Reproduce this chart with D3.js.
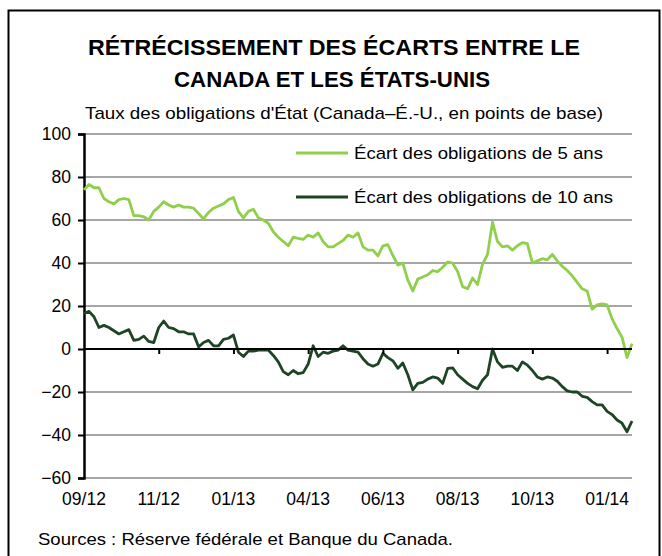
<!DOCTYPE html>
<html>
<head>
<meta charset="utf-8">
<script src="https://cdn.jsdelivr.net/npm/d3@7"></script>
<style>
  body { margin: 0; background: #fff; }
  svg { font-family: "Liberation Sans", Arial, sans-serif; }
</style>
</head>
<body>
<div id="chart"></div>
<script>
// spread series (basis points), evenly spaced trading-day samples
const spread5 = [
  74, 76.5, 75, 75, 70, 68.5, 67.5, 69.5, 70, 69.5,
  62, 62, 61.5, 60, 64, 66, 68.5, 67, 66, 67,
  66, 66, 65.5, 63, 60.5, 63.5, 65.5, 66.5, 67.5, 69.5,
  70.5, 64, 61, 64, 65, 61, 60, 58.5, 54.5, 52,
  50, 48, 52, 51.5, 51, 53, 52, 54, 50, 47.5,
  47.5, 49, 50.5, 53, 52, 54, 47.5, 46, 46, 43.3,
  48, 48.5, 43.5, 39, 40, 32, 27, 32.5, 33.5, 34.5,
  36.5, 36, 38, 40.5, 40, 36, 29, 28, 33, 30,
  39.5, 44, 59, 50, 47.5, 48, 46, 48, 49.5, 49,
  40, 41, 42, 41.5, 44, 41, 38.5, 36.5, 34, 31,
  28, 27, 18.5, 20.5, 21, 20.5, 14, 9.5, 5.5, -4,
  2.5
];
const spread10 = [
  16.5, 17.5, 15, 10, 11, 10, 8.5, 7, 8, 9,
  4, 4.5, 6, 3.5, 3, 10, 13, 10, 9.5, 8,
  8, 7, 7, 1, 3, 4, 1.5, 1.5, 4.5, 5,
  6.5, -1.5, -3.5, -1, -1, -0.5, -0.5, -0.5, -3, -6,
  -10.5, -12, -10, -11.5, -11, -7, 1.5, -3.5, -1.5, -2,
  -1, -0.5, 1.5, -0.5, -1, -1.5, -4.5, -7, -8, -7,
  -2, -4, -5.5, -9, -6.5, -12, -19, -16, -15.5, -14,
  -13, -13.5, -16, -9, -8.8, -12, -14, -16, -17.5, -18.5,
  -14.5, -12, 0, -6, -8.5, -8, -8, -10, -6, -7.5,
  -10, -13, -14, -13, -13.5, -15, -17.5, -19.5, -20, -20,
  -22, -22.5, -24.5, -26, -26, -29, -30.5, -33, -34.5, -38.5,
  -33.5
];
const seriesNames = ["Écart des obligations de 5 ans", "Écart des obligations de 10 ans"];
const seriesColors = ["#8fcf4c", "#1d4424"];
const xTickIndex = [0, 15, 30, 45, 60, 75, 90, 105];
const xTickLabels = ["09/12", "11/12", "01/13", "04/13", "06/13", "08/13", "10/13", "01/14"];
const yTicks = [-60, -40, -20, 0, 20, 40, 60, 80, 100];

const W = 662, H = 556;
const plot = { left: 84, right: 632, top: 134, bottom: 478 };

const svg = d3.select("#chart").append("svg")
  .attr("width", W)
  .attr("height", H);

// frame
svg.append("rect")
  .attr("x", 8.5).attr("y", 10.5)
  .attr("width", 651).attr("height", 560)
  .attr("fill", "none")
  .attr("stroke", "#000")
  .attr("stroke-width", 2);

// title (text in the source is a bit wider than Arial, so stretch it)
function addText(tx, ty, str, size, len, anchor, bold) {
  return svg.append("text")
    .attr("x", tx).attr("y", ty)
    .attr("text-anchor", anchor)
    .attr("textLength", len)
    .attr("lengthAdjust", "spacingAndGlyphs")
    .style("font-size", size + "px")
    .style("font-weight", bold ? "bold" : "normal")
    .text(str);
}
addText(334, 55, "RÉTRÉCISSEMENT DES ÉCARTS ENTRE LE", 22.5, 492, "middle", true);
addText(332, 87, "CANADA ET LES ÉTATS-UNIS", 22.5, 316, "middle", true);
addText(344, 119, "Taux des obligations d'État (Canada–É.-U., en points de base)", 17, 518, "middle", false);

// scales
const x = d3.scaleLinear()
  .domain([0, spread5.length - 1])
  .range([plot.left, plot.right]);

const y = d3.scaleLinear()
  .domain([-60, 100])
  .range([plot.bottom, plot.top]);

// gridlines
svg.append("g")
  .selectAll("line")
  .data(yTicks.filter(d => d !== 0))
  .enter()
  .append("line")
  .attr("x1", plot.left).attr("x2", plot.right)
  .attr("y1", d => y(d)).attr("y2", d => y(d))
  .attr("stroke", "#a6a6a6")
  .attr("stroke-width", 2);

// y axis
const yAxis = svg.append("g")
  .attr("transform", "translate(" + plot.left + ",0)")
  .call(d3.axisLeft(y).tickValues(yTicks).tickSize(6).tickPadding(7))
  .style("font-size", "17.5px")
  .style("font-family", "'Liberation Sans', Arial, sans-serif");
yAxis.select(".domain").attr("stroke-width", 2.5);
yAxis.selectAll(".tick line").attr("stroke-width", 2);
yAxis.selectAll(".tick text").attr("fill", "#000");

// lines
const line = d3.line()
  .x((d, i) => x(i))
  .y(d => y(d));

[spread5, spread10].forEach((s, k) => {
  svg.append("path")
    .datum(s)
    .attr("fill", "none")
    .attr("stroke", seriesColors[k])
    .attr("stroke-width", 2.8)
    .attr("stroke-linejoin", "round")
    .attr("d", line);
});

// zero line with category ticks
const xAxis = svg.append("g")
  .attr("transform", "translate(0," + y(0) + ")")
  .call(d3.axisBottom(x).tickValues(xTickIndex.slice(1)).tickSize(5).tickFormat(""))
  .call(g => g.select(".domain").attr("d", "M" + plot.left + ",0H" + plot.right).attr("stroke-width", 2.2));
xAxis.selectAll(".tick line").attr("stroke-width", 2);

// x labels at the bottom
svg.append("g")
  .selectAll("text")
  .data(xTickIndex)
  .enter()
  .append("text")
  .attr("x", d => x(d))
  .attr("y", 505)
  .attr("text-anchor", "middle")
  .style("font-size", "17.5px")
  .text((d, i) => xTickLabels[i]);

// legend
const legendLen = [249, 259];
seriesNames.forEach((name, k) => {
  const ly = 153 + k * 44;
  svg.append("line")
    .attr("x1", 296).attr("x2", 348)
    .attr("y1", ly).attr("y2", ly)
    .attr("stroke", seriesColors[k])
    .attr("stroke-width", 2.8);
  addText(354, ly + 6, name, 17, legendLen[k], "start", false);
});

// source
addText(38, 545, "Sources : Réserve fédérale et Banque du Canada.", 17, 415, "start", false);
</script>
</body>
</html>
